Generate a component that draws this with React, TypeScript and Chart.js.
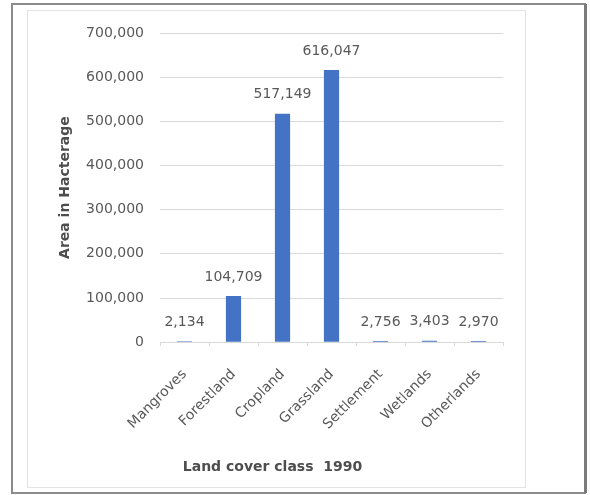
import React, { useEffect, useRef } from "react";
import { Chart, registerables } from "chart.js";

Chart.register(...registerables);

const categories = ["Mangroves", "Forestland", "Cropland", "Grassland", "Settlement", "Wetlands", "Otherlands"];
const areaValues = [2134, 104709, 517149, 616047, 2756, 3403, 2970];
const yTicks = [0, 100000, 200000, 300000, 400000, 500000, 600000, 700000];
const yTitle = "Area in Hacterage";
const xTitle = "Land cover class  1990";

const FONT = "'DejaVu Sans', sans-serif";
const TEXT = "#595959";
const TITLE = "#4d4d4d";
const GRID = "#d9d9d9";
const BAR = "#4472c4";

const fmt = (v: number) => v.toLocaleString("en-US");

const framePlugin = {
  id: "frame",
  beforeDraw(chart: any) {
    const ctx = chart.ctx;
    ctx.save();
    ctx.fillStyle = "#ffffff";
    ctx.fillRect(0, 0, chart.width, chart.height);
    // outer frame
    ctx.strokeStyle = "#8c8c8c";
    ctx.lineWidth = 2;
    ctx.strokeRect(12, 4, 573, 489);
    ctx.strokeStyle = "#7a7a7a";
    ctx.lineWidth = 3;
    ctx.beginPath();
    ctx.moveTo(585.5, 4);
    ctx.lineTo(585.5, 493);
    ctx.stroke();
    // inner panel
    ctx.strokeStyle = "#e3e3e3";
    ctx.lineWidth = 1;
    ctx.strokeRect(27.5, 10.5, 498, 477);
    ctx.restore();
  },
};

const labelPlugin = {
  id: "valueLabels",
  afterDatasetsDraw(chart: any) {
    const ctx = chart.ctx;
    const meta = chart.getDatasetMeta(0);
    ctx.save();
    ctx.font = `14px ${FONT}`;
    ctx.fillStyle = TEXT;
    ctx.textAlign = "center";
    ctx.textBaseline = "middle";
    meta.data.forEach((bar: any, i: number) => {
      ctx.fillText(fmt(areaValues[i]), bar.x, bar.y - 19);
    });
    ctx.restore();
  },
};

export default function App() {
  const ref = useRef<HTMLCanvasElement | null>(null);
  useEffect(() => {
    if (!ref.current) return;
    const chart = new Chart(ref.current, {
      type: "bar",
      data: {
        labels: categories,
        datasets: [
          {
            data: areaValues,
            backgroundColor: BAR,
            borderWidth: 0,
            barPercentage: 0.62,
            categoryPercentage: 0.5,
          },
        ],
      },
      options: {
        responsive: false,
        animation: false,
        layout: { padding: { left: 42, right: 87, top: 33, bottom: 10 } },
        plugins: {
          legend: { display: false },
          tooltip: { enabled: false },
          title: {
            display: true,
            position: "bottom",
            text: xTitle,
            color: TITLE,
            font: { family: FONT, size: 14, weight: "bold" },
            padding: { top: 10, bottom: 9 },
          },
        },
        scales: {
          x: {
            afterFit: (s: any) => {
              s.height = 107;
            },
            grid: {
              display: true,
              drawOnChartArea: false,
              drawTicks: true,
              tickLength: 4,
              color: GRID,
            },
            border: { display: true, color: GRID },
            ticks: {
              color: TEXT,
              font: { family: FONT, size: 14 },
              minRotation: 45,
              maxRotation: 45,
              padding: 20,
            },
          },
          y: {
            min: 0,
            max: 700000,
            afterFit: (s: any) => {
              s.width = 118;
            },
            afterBuildTicks: (s: any) => {
              s.ticks = yTicks.map((v) => ({ value: v }));
            },
            grid: { color: GRID, drawTicks: false },
            border: { display: false },
            ticks: {
              color: TEXT,
              font: { family: FONT, size: 14 },
              padding: 16,
              callback: (v: any) => fmt(Number(v)),
            },
            title: {
              display: true,
              text: yTitle,
              color: TITLE,
              font: { family: FONT, size: 14, weight: "bold" },
              padding: { top: 15, bottom: 0 },
            },
          },
        },
      },
      plugins: [framePlugin, labelPlugin],
    });
    return () => chart.destroy();
  }, []);
  return (
    <div style={{ position: "absolute", left: 0, top: 0, width: 590, height: 495 }}>
      <canvas ref={ref} width={590} height={495} />
    </div>
  );
}
